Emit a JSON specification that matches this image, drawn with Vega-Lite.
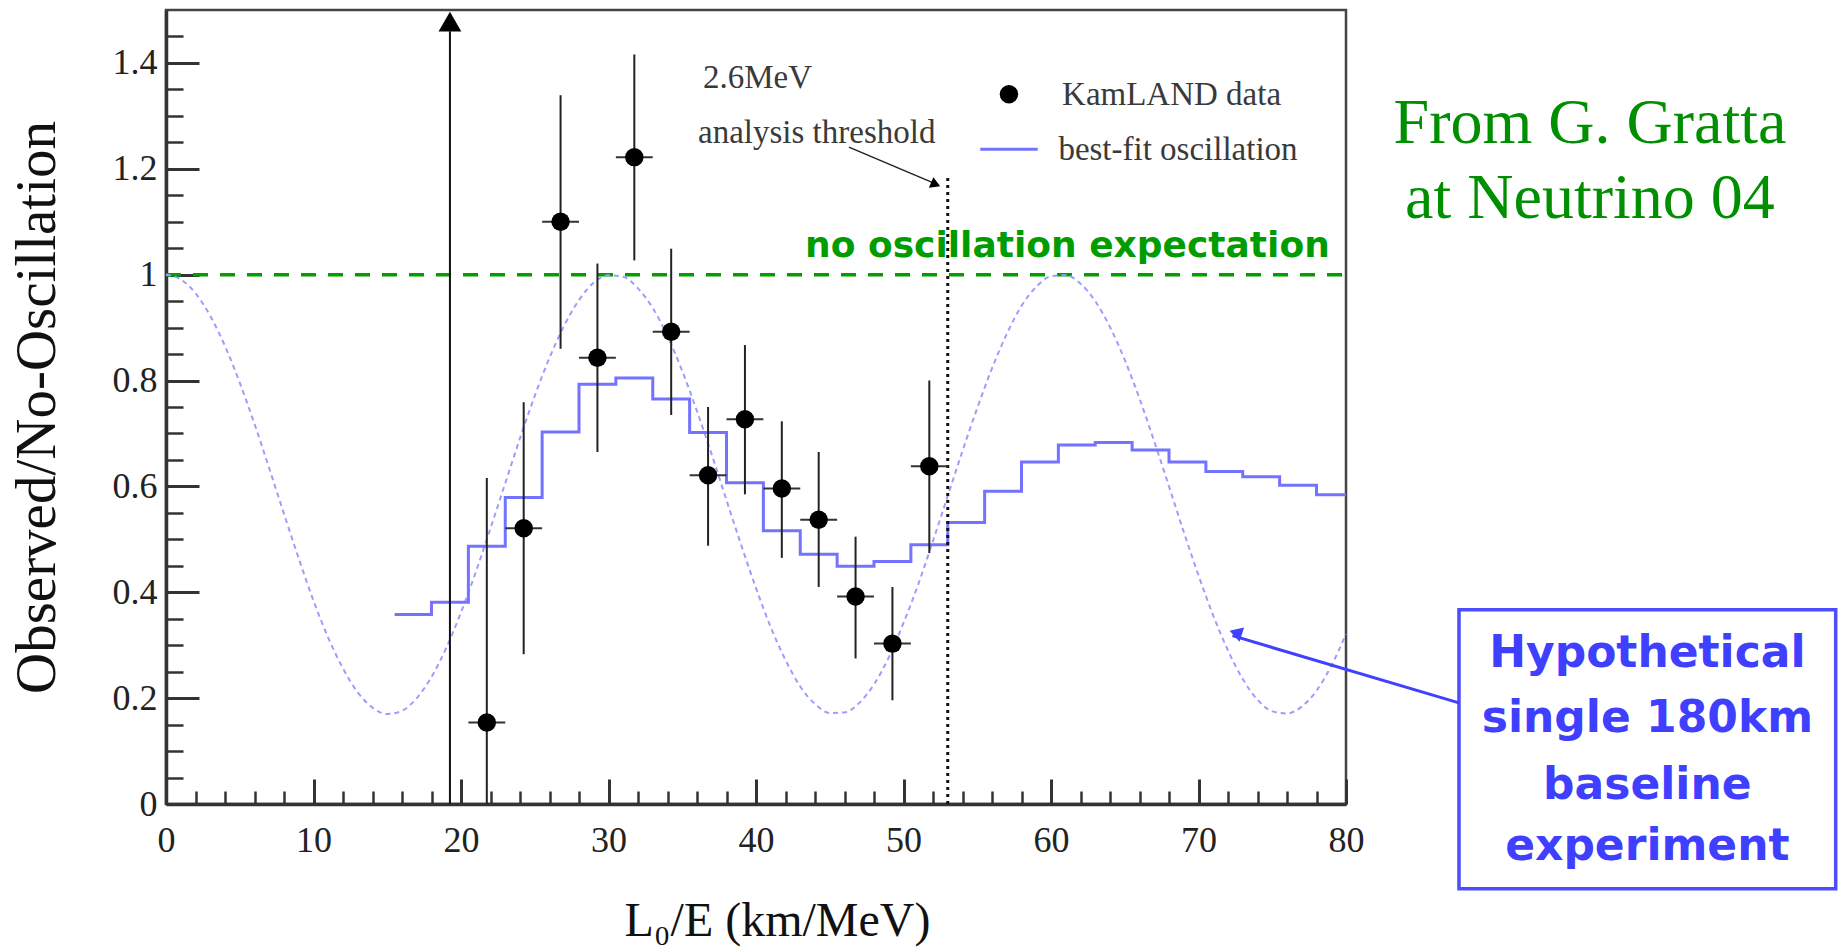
{
  "$schema": "https://vega.github.io/schema/vega-lite/v6.json",
  "width": 1180,
  "height": 794,
  "autosize": {"type": "none"},
  "padding": {"left": 166, "top": 10, "right": 495, "bottom": 148},
  "background": "white",
  "config": {"view": {"stroke": "#444444", "strokeWidth": 2.5}, "axis": {"grid": false}},
  "resolve": {"axis": {"x": "independent", "y": "independent"}},
  "datasets": {
    "hist": [
      {"x": 15.5, "y": 0.358}, {"x": 18, "y": 0.381}, {"x": 20.5, "y": 0.487}, {"x": 23, "y": 0.579},
      {"x": 25.5, "y": 0.703}, {"x": 28, "y": 0.793}, {"x": 30.5, "y": 0.805}, {"x": 33, "y": 0.765},
      {"x": 35.5, "y": 0.702}, {"x": 38, "y": 0.607}, {"x": 40.5, "y": 0.516}, {"x": 43, "y": 0.472},
      {"x": 45.5, "y": 0.449}, {"x": 48, "y": 0.458}, {"x": 50.5, "y": 0.49}, {"x": 53, "y": 0.532},
      {"x": 55.5, "y": 0.591}, {"x": 58, "y": 0.646}, {"x": 60.5, "y": 0.678}, {"x": 63, "y": 0.683},
      {"x": 65.5, "y": 0.669}, {"x": 68, "y": 0.646}, {"x": 70.5, "y": 0.628}, {"x": 73, "y": 0.618},
      {"x": 75.5, "y": 0.602}, {"x": 78, "y": 0.584}, {"x": 80, "y": 0.584}
    ],
    "curve": [
      {"x": 0, "y": 1}, {"x": 1, "y": 0.991}, {"x": 2, "y": 0.965}, {"x": 3, "y": 0.922}, {"x": 4, "y": 0.865},
      {"x": 5, "y": 0.796}, {"x": 6, "y": 0.718}, {"x": 7, "y": 0.634}, {"x": 8, "y": 0.548}, {"x": 9, "y": 0.464},
      {"x": 10, "y": 0.384}, {"x": 11, "y": 0.314}, {"x": 12, "y": 0.256}, {"x": 13, "y": 0.211}, {"x": 14, "y": 0.182},
      {"x": 15, "y": 0.17}, {"x": 16, "y": 0.176}, {"x": 17, "y": 0.2}, {"x": 18, "y": 0.24}, {"x": 19, "y": 0.295},
      {"x": 20, "y": 0.362}, {"x": 21, "y": 0.438}, {"x": 22, "y": 0.521}, {"x": 23, "y": 0.606}, {"x": 24, "y": 0.691},
      {"x": 25, "y": 0.771}, {"x": 26, "y": 0.843}, {"x": 27, "y": 0.904}, {"x": 28, "y": 0.952}, {"x": 29, "y": 0.985},
      {"x": 30, "y": 0.999}, {"x": 31, "y": 0.996}, {"x": 32, "y": 0.974}, {"x": 33, "y": 0.937}, {"x": 34, "y": 0.884},
      {"x": 35, "y": 0.818}, {"x": 36, "y": 0.742}, {"x": 37, "y": 0.66}, {"x": 38, "y": 0.574}, {"x": 39, "y": 0.489},
      {"x": 40, "y": 0.408}, {"x": 41, "y": 0.334}, {"x": 42, "y": 0.272}, {"x": 43, "y": 0.222}, {"x": 44, "y": 0.189},
      {"x": 45, "y": 0.172}, {"x": 46, "y": 0.173}, {"x": 47, "y": 0.191}, {"x": 48, "y": 0.226}, {"x": 49, "y": 0.277},
      {"x": 50, "y": 0.342}, {"x": 51, "y": 0.415}, {"x": 52, "y": 0.497}, {"x": 53, "y": 0.582}, {"x": 54, "y": 0.667},
      {"x": 55, "y": 0.748}, {"x": 56, "y": 0.823}, {"x": 57, "y": 0.888}, {"x": 58, "y": 0.941}, {"x": 59, "y": 0.977},
      {"x": 60, "y": 0.997}, {"x": 61, "y": 0.999}, {"x": 62, "y": 0.983}, {"x": 63, "y": 0.95}, {"x": 64, "y": 0.901},
      {"x": 65, "y": 0.839}, {"x": 66, "y": 0.766}, {"x": 67, "y": 0.685}, {"x": 68, "y": 0.6}, {"x": 69, "y": 0.514},
      {"x": 70, "y": 0.432}, {"x": 71, "y": 0.356}, {"x": 72, "y": 0.29}, {"x": 73, "y": 0.236}, {"x": 74, "y": 0.197},
      {"x": 75, "y": 0.175}, {"x": 76, "y": 0.171}, {"x": 77, "y": 0.184}, {"x": 78, "y": 0.214}, {"x": 79, "y": 0.261},
      {"x": 80, "y": 0.321}
    ],
    "points": [
      {"x": 21.75, "y": 0.154, "lo": 0, "hi": 0.616, "xlo": 20.5, "xhi": 23},
      {"x": 24.25, "y": 0.521, "lo": 0.283, "hi": 0.759, "xlo": 23, "xhi": 25.5},
      {"x": 26.75, "y": 1.1, "lo": 0.86, "hi": 1.339, "xlo": 25.5, "xhi": 28},
      {"x": 29.25, "y": 0.843, "lo": 0.665, "hi": 1.021, "xlo": 28, "xhi": 30.5},
      {"x": 31.75, "y": 1.222, "lo": 1.027, "hi": 1.416, "xlo": 30.5, "xhi": 33},
      {"x": 34.25, "y": 0.892, "lo": 0.735, "hi": 1.049, "xlo": 33, "xhi": 35.5},
      {"x": 36.75, "y": 0.621, "lo": 0.488, "hi": 0.75, "xlo": 35.5, "xhi": 38},
      {"x": 39.25, "y": 0.727, "lo": 0.585, "hi": 0.867, "xlo": 38, "xhi": 40.5},
      {"x": 41.75, "y": 0.596, "lo": 0.465, "hi": 0.723, "xlo": 40.5, "xhi": 43},
      {"x": 44.25, "y": 0.537, "lo": 0.41, "hi": 0.665, "xlo": 43, "xhi": 45.5},
      {"x": 46.75, "y": 0.392, "lo": 0.275, "hi": 0.505, "xlo": 45.5, "xhi": 48},
      {"x": 49.25, "y": 0.303, "lo": 0.196, "hi": 0.41, "xlo": 48, "xhi": 50.5},
      {"x": 51.75, "y": 0.638, "lo": 0.474, "hi": 0.8, "xlo": 50.5, "xhi": 53}
    ]
  },
  "encoding": {
    "x": {"field": "x", "type": "quantitative", "scale": {"domain": [0, 80], "nice": false, "zero": false}, "axis": null},
    "y": {"field": "y", "type": "quantitative", "scale": {"domain": [0, 1.5], "nice": false, "zero": false}, "axis": null}
  },
  "layer": [
    {
      "data": {"values": [{"x": 0, "y": 1}, {"x": 80.3, "y": 1}]},
      "mark": {"type": "line", "color": "#00a000", "strokeWidth": 3.5, "strokeDash": [15, 12]}
    },
    {
      "data": {"name": "curve"},
      "mark": {"type": "line", "color": "#9d9dff", "strokeWidth": 2, "strokeDash": [5, 4], "interpolate": "monotone"},
      "encoding": {
        "x": {"field": "x", "type": "quantitative", "scale": {"domain": [0, 80], "nice": false, "zero": false},
          "axis": {"orient": "bottom", "values": [2, 4, 6, 8, 12, 14, 16, 18, 22, 24, 26, 28, 32, 34, 36, 38, 42, 44, 46, 48, 52, 54, 56, 58, 62, 64, 66, 68, 72, 74, 76, 78],
            "tickSize": -13, "tickWidth": 2.5, "tickColor": "#333333", "labels": false, "domain": false, "title": null, "grid": false}},
        "y": {"field": "y", "type": "quantitative", "scale": {"domain": [0, 1.5], "nice": false, "zero": false},
          "axis": {"orient": "left", "values": [0.05, 0.1, 0.15, 0.25, 0.3, 0.35, 0.45, 0.5, 0.55, 0.65, 0.7, 0.75, 0.85, 0.9, 0.95, 1.05, 1.1, 1.15, 1.25, 1.3, 1.35, 1.45],
            "tickSize": -17, "tickWidth": 2.5, "tickColor": "#333333", "labels": false, "domain": false, "title": null, "grid": false}}
      }
    },
    {
      "data": {"name": "hist"},
      "mark": {"type": "line", "color": "#7373ff", "strokeWidth": 3, "interpolate": "step-after"},
      "encoding": {
        "x": {"field": "x", "type": "quantitative", "scale": {"domain": [0, 80], "nice": false, "zero": false},
          "axis": {"orient": "bottom", "values": [0, 10, 20, 30, 40, 50, 60, 70, 80], "format": "d",
            "tickSize": -25, "tickWidth": 3, "tickColor": "#333333", "domainColor": "#333333", "domainWidth": 3.5,
            "labelFont": "Liberation Serif", "labelFontSize": 36, "labelColor": "#222222", "labelPadding": 44,
            "labelFlush": false, "labelOverlap": false,
            "title": "L₀/E (km/MeV)", "titleFont": "Liberation Serif", "titleFontSize": 48, "titleFontWeight": "normal",
            "titleColor": "#111111", "titleBaseline": "alphabetic", "titleY": 131, "titleX": 611, "titleAlign": "center", "grid": false}},
        "y": {"field": "y", "type": "quantitative", "scale": {"domain": [0, 1.5], "nice": false, "zero": false},
          "axis": {"orient": "left", "values": [0, 0.2, 0.4, 0.6, 0.8, 1, 1.2, 1.4], "format": "~g",
            "tickSize": -33, "tickWidth": 3, "tickColor": "#333333", "domainColor": "#333333", "domainWidth": 3.5,
            "labelFont": "Liberation Serif", "labelFontSize": 36, "labelColor": "#222222", "labelPadding": 42,
            "labelFlush": false, "labelOverlap": false,
            "title": "Observed/No-Oscillation", "titleFont": "Liberation Serif", "titleFontSize": 57, "titleFontWeight": "normal",
            "titleColor": "#111111", "titleBaseline": "alphabetic", "titleX": -112, "grid": false}}
      }
    },
    {
      "data": {"values": [{"x": 53, "y": 0, "y2": 1.19}]},
      "mark": {"type": "rule", "color": "#111111", "strokeWidth": 3, "strokeDash": [3, 4]},
      "encoding": {"y2": {"field": "y2"}}
    },
    {
      "data": {"values": [{"x": 19.25, "y": 0, "y2": 1.46}]},
      "mark": {"type": "rule", "color": "#111111", "strokeWidth": 2},
      "encoding": {"y2": {"field": "y2"}}
    },
    {
      "data": {"values": [{"x": 19.25, "y": 1.478}]},
      "mark": {"type": "point", "shape": "triangle-up", "filled": true, "color": "#000000", "size": 520, "opacity": 1}
    },
    {
      "data": {"name": "points"},
      "mark": {"type": "rule", "color": "#222222", "strokeWidth": 2},
      "encoding": {
        "y": {"field": "lo", "type": "quantitative", "scale": {"domain": [0, 1.5], "nice": false, "zero": false}, "axis": null},
        "y2": {"field": "hi"}
      }
    },
    {
      "data": {"name": "points"},
      "mark": {"type": "rule", "color": "#333333", "strokeWidth": 2},
      "encoding": {
        "x": {"field": "xlo", "type": "quantitative", "scale": {"domain": [0, 80], "nice": false, "zero": false}, "axis": null},
        "x2": {"field": "xhi"}
      }
    },
    {
      "data": {"name": "points"},
      "mark": {"type": "point", "shape": "circle", "filled": true, "color": "#000000", "size": 340, "opacity": 1}
    },
    {
      "data": {"values": [{"x": 57.15, "y": 1.341}]},
      "mark": {"type": "point", "shape": "circle", "filled": true, "color": "#000000", "size": 340, "opacity": 1}
    },
    {
      "data": {"values": [{"x": 55.2, "y": 1.237, "x2": 59.1}]},
      "mark": {"type": "rule", "color": "#7373ff", "strokeWidth": 3},
      "encoding": {"x2": {"field": "x2"}}
    },
    {
      "data": {"values": [
        {"x": 60.75, "y": 1.32, "text": "KamLAND data"},
        {"x": 60.5, "y": 1.216, "text": "best-fit oscillation"},
        {"x": 36.4, "y": 1.3535, "text": "2.6MeV"},
        {"x": 36.07, "y": 1.2478, "text": "analysis threshold"}
      ]},
      "mark": {"type": "text", "font": "Liberation Serif", "fontSize": 33, "color": "#3a3a3a", "align": "left", "baseline": "alphabetic"},
      "encoding": {"text": {"field": "text"}}
    },
    {
      "data": {"values": [{"x": 46.3, "y": 1.241, "x2": 52.3, "y2": 1.17}]},
      "mark": {"type": "rule", "color": "#222222", "strokeWidth": 1.5},
      "encoding": {"x2": {"field": "x2"}, "y2": {"field": "y2"}}
    },
    {
      "data": {"values": [{"x": 52.18, "y": 1.1705}]},
      "mark": {"type": "point", "shape": "triangle-right", "filled": true, "color": "#000000", "size": 130, "angle": 23, "opacity": 1}
    },
    {
      "data": {"values": [{"x": 78.9, "y": 1.033, "text": "no oscillation expectation"}]},
      "mark": {"type": "text", "font": "DejaVu Sans", "fontWeight": "bold", "fontSize": 36, "color": "#009c00", "align": "right", "baseline": "alphabetic"},
      "encoding": {"text": {"field": "text"}}
    },
    {
      "data": {"values": [
        {"x": 96.54, "y": 1.2484, "text": "From G. Gratta"},
        {"x": 96.54, "y": 1.1067, "text": "at Neutrino 04"}
      ]},
      "mark": {"type": "text", "font": "Liberation Serif", "fontSize": 64, "color": "#008f00", "align": "center", "baseline": "alphabetic"},
      "encoding": {"text": {"field": "text"}}
    },
    {
      "data": {"values": [{"x": 87.66, "y": 0.367, "x2": 113.2, "y2": -0.16}]},
      "mark": {"type": "rect", "fill": "#ffffff", "fillOpacity": 0, "stroke": "#4d4dff", "strokeWidth": 3.5},
      "encoding": {"x2": {"field": "x2"}, "y2": {"field": "y2"}}
    },
    {
      "data": {"values": [{"x": 87.66, "y": 0.191, "x2": 72.3, "y2": 0.318}]},
      "mark": {"type": "rule", "color": "#4040ff", "strokeWidth": 3},
      "encoding": {"x2": {"field": "x2"}, "y2": {"field": "y2"}}
    },
    {
      "data": {"values": [{"x": 72.52, "y": 0.3235}]},
      "mark": {"type": "point", "shape": "triangle-right", "filled": true, "color": "#4040ff", "size": 220, "angle": 197.5, "opacity": 1}
    },
    {
      "data": {"values": [
        {"x": 100.43, "y": 0.284, "text": "Hypothetical"},
        {"x": 100.43, "y": 0.161, "text": "single  180km"},
        {"x": 100.43, "y": 0.0347, "text": "baseline"},
        {"x": 100.43, "y": -0.0812, "text": "experiment"}
      ]},
      "mark": {"type": "text", "font": "DejaVu Sans", "fontWeight": "bold", "fontSize": 44, "color": "#3f3fff", "align": "center", "baseline": "middle"},
      "encoding": {"text": {"field": "text"}}
    }
  ]
}
